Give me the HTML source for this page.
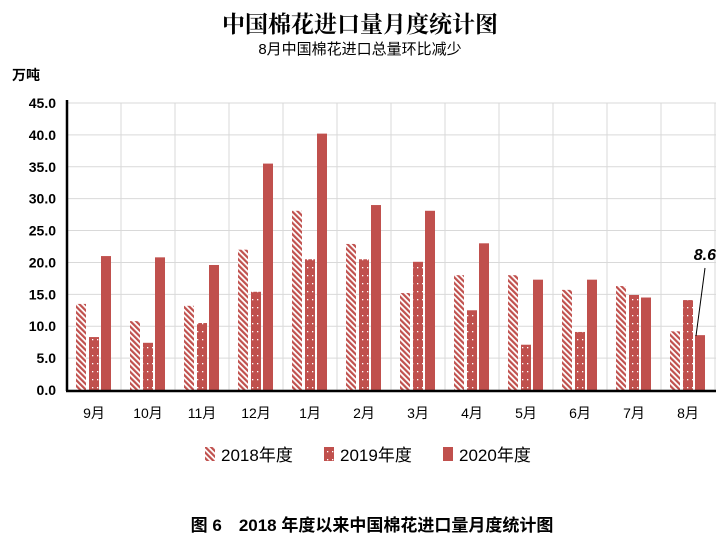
<!DOCTYPE html>
<html><head><meta charset="utf-8"><style>
body{margin:0;background:#fff;width:719px;height:546px;overflow:hidden}
text{font-family:"Liberation Sans","Noto Sans CJK SC",sans-serif}
.sr{font-family:"Liberation Serif","Noto Serif CJK SC",serif}
</style></head><body>
<svg width="719" height="546" xmlns="http://www.w3.org/2000/svg">
<defs>
<pattern id="h" width="4" height="4" patternUnits="userSpaceOnUse" patternTransform="rotate(-45)">
<rect width="4" height="4" fill="#fff"/><rect width="2.2" height="4" fill="#c0504d"/></pattern>
<pattern id="d" width="5" height="8" patternUnits="userSpaceOnUse">
<rect width="5" height="8" fill="#c0504d"/><rect x="2" y="3" width="1.3" height="1.3" fill="#fff"/></pattern>
</defs>
<text class="sr" x="360" y="32" text-anchor="middle" font-size="23" font-weight="bold" fill="#000">中国棉花进口量月度统计图</text>
<text x="360" y="54" text-anchor="middle" font-size="15" fill="#000">8月中国棉花进口总量环比减少</text>
<text x="12" y="80" font-size="14" font-weight="bold" fill="#000">万吨</text>
<g id="grid" stroke="#d9d9d9" stroke-width="1"></g>
<g id="bars"></g>
<line x1="67" y1="100" x2="67" y2="391" stroke="#000" stroke-width="2.5"/>
<line x1="66" y1="391" x2="716" y2="391" stroke="#000" stroke-width="2.5"/>
<g id="yl" font-size="14" font-weight="bold" text-anchor="end"></g>
<g id="xl" font-size="14" text-anchor="middle"></g>
<text x="716" y="260" text-anchor="end" font-size="16" font-weight="bold" font-style="italic">8.6</text>
<line x1="705" y1="268" x2="696" y2="336" stroke="#000" stroke-width="1"/>
<rect x="205" y="447" width="10" height="14" fill="url(#h)"/><text x="221" y="461" font-size="17">2018年度</text>
<rect x="324" y="447" width="10" height="14" fill="url(#d)"/><text x="340" y="461" font-size="17">2019年度</text>
<rect x="443" y="447" width="10" height="14" fill="#c0504d"/><text x="459" y="461" font-size="17">2020年度</text>
<text x="372" y="531" text-anchor="middle" font-size="17" font-weight="bold">图 6　2018 年度以来中国棉花进口量月度统计图</text>
</svg>
<script>
var ns="http://www.w3.org/2000/svg";
function el(p,t,a,txt){var e=document.createElementNS(ns,t);for(var k in a)e.setAttribute(k,a[k]);if(txt)e.textContent=txt;document.getElementById(p).appendChild(e);}
var y0=390,s=287/45,x0=67,cw=54;
for(var i=0;i<=9;i++){var y=y0-i*5*s;el('grid','line',{x1:67,x2:716,y1:y,y2:y});el('yl','text',{x:56,y:y+5},(i*5).toFixed(1));}
for(var j=1;j<=12;j++){el('grid','line',{x1:x0+j*cw,x2:x0+j*cw,y1:103,y2:390});}
var m=['9月','10月','11月','12月','1月','2月','3月','4月','5月','6月','7月','8月'];
var d=[[13.5,8.3,21.0],[10.8,7.4,20.8],[13.2,10.5,19.6],[22.0,15.4,35.5],[28.1,20.5,40.2],[22.9,20.5,29.0],[15.2,20.1,28.1],[18.0,12.5,23.0],[18.0,7.1,17.3],[15.7,9.1,17.3],[16.3,14.9,14.5],[9.2,14.1,8.6]];
var f=['url(#h)','url(#d)','#c0504d'],off=[9,22,34];
for(var j=0;j<12;j++){var gx=x0+j*cw;for(var k=0;k<3;k++){var h=d[j][k]*s;el('bars','rect',{x:gx+off[k],y:y0-h,width:10,height:h,fill:f[k]});}
el('xl','text',{x:gx+cw/2,y:418},m[j]);}
</script>
</body></html>
